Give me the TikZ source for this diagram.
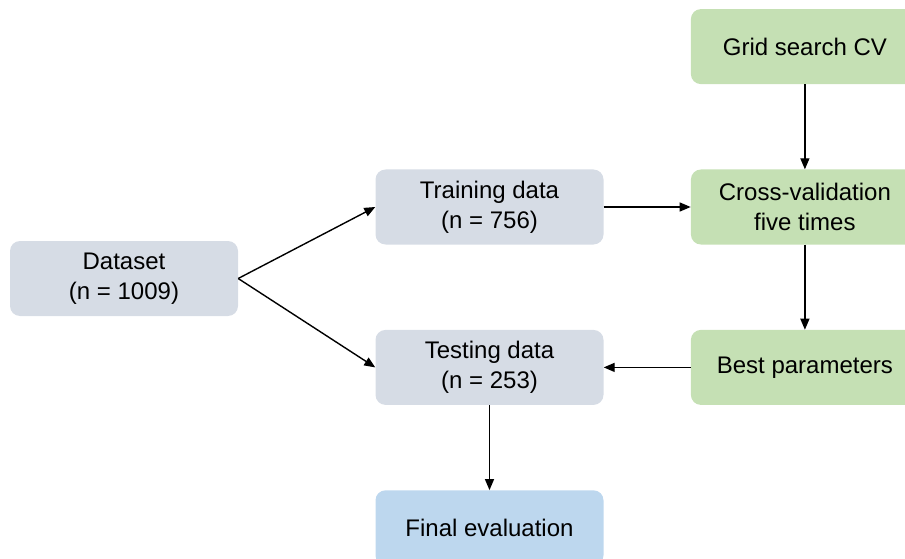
\documentclass[tikz,border=0pt]{standalone}
\usepackage{fontspec}
\setmainfont{Liberation Sans}
\usepackage{xcolor}
\usetikzlibrary{arrows.meta,positioning}

\definecolor{dataGray}{HTML}{D6DCE5}
\definecolor{tuneGreen}{HTML}{C5E0B4}
\definecolor{evalBlue}{HTML}{BDD7EE}

\begin{document}
\begin{tikzpicture}[
    node distance=85pt and 87pt,
    every node/.style={font=\fontsize{24}{30}\selectfont},
    databox/.style={rounded corners=10pt, align=center, minimum width=228pt, minimum height=75pt, fill=dataGray},
    tunebox/.style={rounded corners=10pt, align=center, minimum width=228pt, minimum height=75pt, fill=tuneGreen},
    evalbox/.style={rounded corners=10pt, align=center, minimum width=228pt, minimum height=75pt, fill=evalBlue},
    arr/.style={-{Triangle[length=11pt,width=9pt]}, line width=1.4pt}
]
\useasboundingbox (0,0) rectangle (905pt,-559pt);

\node[databox] (train) at (489.5pt,-207pt) {Training data\\(n = 756)};
\node[databox, below=of train] (test) {Testing data\\(n = 253)};
\node[evalbox, below=of test] (final) {Final evaluation};

\node[tunebox, right=of train] (cv) {Cross-validation\\five times};
\node[tunebox, above=of cv] (grid) {Grid search CV};
\node[tunebox, below=of cv] (best) {Best parameters};

\node[databox] (dataset) at (124pt,-278.5pt) {Dataset\\(n = 1009)};

\draw[arr] (dataset.east) -- (train.west);
\draw[arr] (dataset.east) -- (test.west);
\draw[arr] (train) -- (cv);
\draw[arr] (grid) -- (cv);
\draw[arr] (cv) -- (best);
\draw[arr] (best) -- (test);
\draw[arr] (test) -- (final);
\end{tikzpicture}
\end{document}
